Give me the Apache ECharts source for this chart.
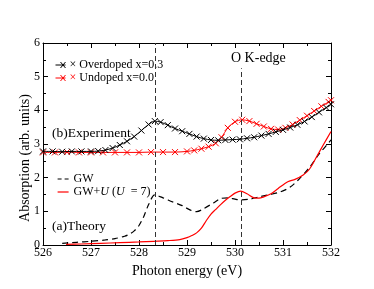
<!DOCTYPE html>
<html><head><meta charset="utf-8">
<script src="https://cdn.jsdelivr.net/npm/echarts@6/dist/echarts.min.js"></script>
<style>html,body{margin:0;padding:0;background:#fff}#c{width:374px;height:289px}</style>
</head><body><div id="c"></div>
<script>
// Experiment: Overdoped x=0.3
const overX = [526.0,526.2,526.4,526.6,526.8,527.0,527.15,527.3,527.45,527.6,527.75,527.9,528.05,528.2,528.33,528.45,528.6,528.75,528.9,529.05,529.2,529.35,529.5,529.65,529.8,529.95,530.1,530.25,530.4,530.55,530.7,530.85,531.0,531.15,531.3,531.45,531.6,531.75,531.9,532.0];
const overY = [2.78,2.78,2.77,2.78,2.78,2.78,2.79,2.82,2.88,2.97,3.08,3.22,3.40,3.58,3.68,3.65,3.56,3.46,3.38,3.30,3.22,3.16,3.12,3.11,3.12,3.13,3.14,3.17,3.20,3.25,3.30,3.36,3.42,3.49,3.57,3.67,3.80,3.94,4.08,4.18];
// Experiment: Undoped x=0.0
const undX = [526.0,526.25,526.5,526.75,527.0,527.25,527.5,527.75,528.0,528.25,528.5,528.75,529.0,529.15,529.3,529.45,529.6,529.72,529.85,530.0,530.15,530.3,530.45,530.6,530.75,530.9,531.05,531.2,531.35,531.5,531.65,531.8,531.95,532.0];
const undY = [2.75,2.75,2.76,2.75,2.75,2.75,2.75,2.75,2.75,2.76,2.76,2.76,2.78,2.81,2.86,2.92,3.02,3.20,3.48,3.66,3.72,3.68,3.60,3.52,3.45,3.43,3.48,3.58,3.71,3.84,3.98,4.12,4.25,4.30];
// Theory: GW
const gwX = [526.4,526.7,527.0,527.3,527.5,527.7,527.8,527.9,528.0,528.1,528.2,528.33,528.5,528.7,528.9,529.05,529.2,529.35,529.55,529.7,529.85,530.0,530.1,530.3,530.5,530.7,530.95,531.15,531.35,531.55,531.75,531.9,532.0];
const gwY = [0.05,0.08,0.11,0.15,0.19,0.26,0.32,0.42,0.58,0.85,1.2,1.49,1.40,1.28,1.17,1.05,0.99,1.08,1.25,1.38,1.40,1.36,1.34,1.36,1.43,1.49,1.58,1.72,1.98,2.3,2.7,2.95,3.12];
// Theory: GW+U (U = 7)
const guX = [526.48,526.8,527.2,527.6,528.0,528.3,528.6,528.85,529.0,529.1,529.2,529.3,529.4,529.5,529.6,529.7,529.8,529.9,530.0,530.12,530.25,530.4,530.5,530.6,530.75,530.9,531.1,531.25,531.42,531.55,531.7,531.85,532.0];
const guY = [0.02,0.03,0.05,0.07,0.09,0.11,0.13,0.16,0.22,0.28,0.36,0.50,0.72,0.92,1.06,1.20,1.33,1.44,1.54,1.60,1.52,1.40,1.39,1.43,1.52,1.68,1.88,1.95,2.08,2.25,2.62,3.0,3.37];
// Vertical reference lines
const vLines = [528.33, 530.12];
const vLineTops = [6, 5.25];
const xTicks = [526,527,528,529,530,531,532];
const yTicks = [0,1,2,3,4,5,6];

const zip = (a,b) => a.map((v,i)=>[v,b[i]]);
const XSYM = 'path://M0,0L10,10M10,0L0,10';
const LEGX = 'path://M0,3L10,3M5,0L10,6M10,0L5,6';
const F = 'Liberation Serif, Times New Roman, serif';

const axisCommon = {
  axisLine:{show:true,onZero:false,lineStyle:{color:'#000',width:1}},
  axisTick:{show:true,inside:true,length:5,lineStyle:{color:'#000'}},
  minorTick:{show:true,splitNumber:2,length:3,lineStyle:{color:'#000'}},
  splitLine:{show:false}
};

const chart = echarts.init(document.getElementById('c'), null, {renderer:'canvas'});
chart.setOption({
  animation:false,
  backgroundColor:'#fff',
  grid:{left:43,right:43,top:43,bottom:44},
  xAxis:[
    Object.assign({type:'value',min:xTicks[0],max:xTicks[xTicks.length-1],interval:1,position:'bottom',
      name:'Photon energy (eV)',nameLocation:'middle',nameGap:14,
      nameTextStyle:{fontFamily:F,fontSize:14,color:'#000'},
      axisLabel:{fontFamily:F,fontSize:12,color:'#000',margin:2}},axisCommon),
    Object.assign({type:'value',min:xTicks[0],max:xTicks[xTicks.length-1],interval:1,position:'top',
      axisLabel:{show:false}},axisCommon)
  ],
  yAxis:[
    Object.assign({type:'value',min:yTicks[0],max:yTicks[yTicks.length-1],interval:1,position:'left',
      axisLabel:{fontFamily:F,fontSize:12,color:'#000',margin:3}},axisCommon),
    Object.assign({type:'value',min:yTicks[0],max:yTicks[yTicks.length-1],interval:1,position:'right',
      axisLabel:{show:false}},axisCommon)
  ],
  legend:[
    {data:[
       {name:'Overdoped x=0.3',icon:LEGX,itemStyle:{color:'none',borderColor:'#000',borderWidth:1}},
       {name:'Undoped x=0.0',icon:LEGX,itemStyle:{color:'none',borderColor:'#f00',borderWidth:1}}
     ],orient:'vertical',left:53,top:59,padding:0,itemWidth:10,itemHeight:6,itemGap:1,
     textStyle:{fontFamily:F,fontSize:12,lineHeight:12,color:'#000',padding:[0,0,0,-1],
       rich:{xb:{color:'#000',fontSize:12,fontFamily:F},xr:{color:'#f00',fontSize:12,fontFamily:F}}},
     formatter:n=> (n.indexOf('Over')===0?'{xb|×}':'{xr|×}')+' '+n},
    {data:[
       {name:'GW',itemStyle:{opacity:0},lineStyle:{type:[4,3],width:1.2,color:'#000'}},
       {name:'GW+U (U = 7)',itemStyle:{opacity:0},lineStyle:{type:'solid',width:1.2,color:'#f00'}}
     ],orient:'vertical',left:57,top:173,padding:0,itemWidth:11,itemHeight:6,itemGap:1,
     textStyle:{fontFamily:F,fontSize:12,lineHeight:12,color:'#000',rich:{i:{fontStyle:'italic',fontFamily:F,fontSize:12}}},
     formatter:n=> n==='GW'?'GW':'GW+{i|U} ({i|U}  = 7)'}
  ],
  graphic:[
    {type:'text',x:25,y:158,rotation:Math.PI/2,style:{text:'Absorption (arb. units)',font:'14px '+F,fill:'#000',align:'center',verticalAlign:'middle'}},
    {type:'text',left:231,top:51,style:{text:'O K-edge',font:'14px '+F,fill:'#000'}},
    {type:'text',left:52,top:126,style:{text:'(b)Experiment',font:'13.5px '+F,fill:'#000'}},
    {type:'text',left:52,top:219,style:{text:'(a)Theory',font:'13.5px '+F,fill:'#000'}}
  ],
  series:[
    {name:'Overdoped x=0.3',type:'line',data:zip(overX,overY),smooth:0.3,symbol:XSYM,symbolSize:6,showAllSymbol:true,
     lineStyle:{color:'#000',width:1},itemStyle:{color:'#000',borderColor:'#000',borderWidth:1},z:4},
    {name:'Undoped x=0.0',type:'line',data:zip(undX,undY),smooth:0.3,symbol:XSYM,symbolSize:6,showAllSymbol:true,
     lineStyle:{color:'#f00',width:1},itemStyle:{color:'#f00',borderColor:'#f00',borderWidth:1},z:3},
    {name:'GW',type:'line',data:zip(gwX,gwY),smooth:0.3,showSymbol:false,symbol:'none',
     lineStyle:{color:'#000',width:1.2,type:[6,4]},itemStyle:{color:'#000'},z:3},
    {name:'GW+U (U = 7)',type:'line',data:zip(guX,guY),smooth:0.3,showSymbol:false,symbol:'none',
     lineStyle:{color:'#f00',width:1.2},itemStyle:{color:'#f00'},z:3,
     markLine:{silent:true,symbol:'none',label:{show:false},
       lineStyle:{color:'#333',type:[5,3],width:1},
       data:vLines.map((v,i)=>[{coord:[v,0]},{coord:[v,vLineTops[i]]}])}}
  ]
});
</script></body></html>
